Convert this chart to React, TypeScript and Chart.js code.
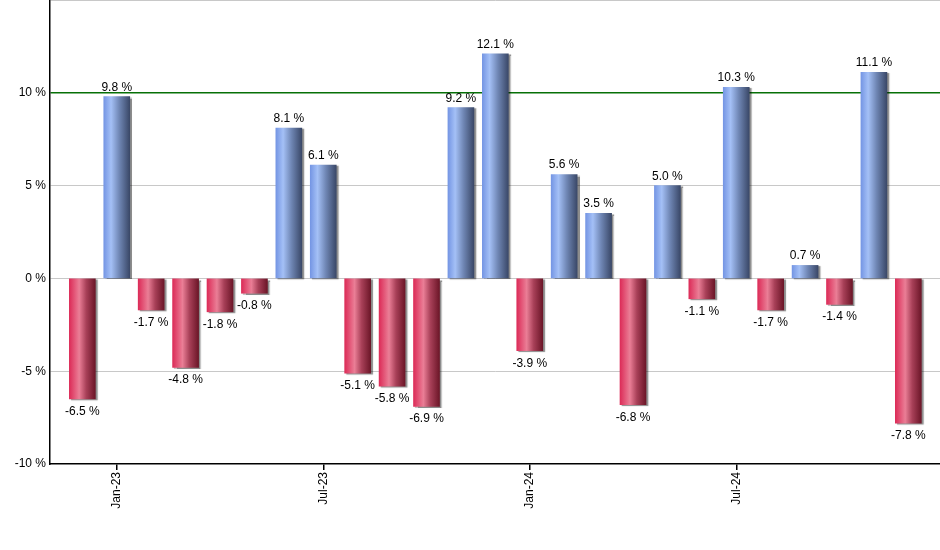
import React, { useEffect, useRef } from "react";
import { Chart, registerables } from "chart.js";

Chart.register(...registerables);

const months: string[] = [
  "Dec-22", "Jan-23", "Feb-23", "Mar-23", "Apr-23", "May-23", "Jun-23", "Jul-23",
  "Aug-23", "Sep-23", "Oct-23", "Nov-23", "Dec-23", "Jan-24", "Feb-24", "Mar-24",
  "Apr-24", "May-24", "Jun-24", "Jul-24", "Aug-24", "Sep-24", "Oct-24", "Nov-24", "Dec-24",
];
const returns: number[] = [
  -6.5, 9.8, -1.7, -4.8, -1.8, -0.8, 8.1, 6.1, -5.1, -5.8, -6.9, 9.2, 12.1, -3.9,
  5.6, 3.5, -6.8, 5.0, -1.1, 10.3, -1.7, 0.7, -1.4, 11.1, -7.8,
];
const xTickIndices: number[] = [1, 7, 13, 19];
const yTickValues: number[] = [-10, -5, 0, 5, 10, 15];

const FONT = "'Liberation Sans', Arial, sans-serif";
const BAR_W = 26;

export default function App() {
  const ref = useRef<HTMLCanvasElement | null>(null);

  useEffect(() => {
    const canvas = ref.current;
    if (!canvas) return;

    const shadowPlugin = {
      id: "barShadow",
      beforeDatasetsDraw(chart: any) {
        const c = chart.ctx;
        c.save();
        c.shadowColor = "rgba(0,0,0,0.45)";
        c.shadowOffsetX = 2;
        c.shadowOffsetY = 1;
        c.shadowBlur = 1;
      },
      afterDatasetsDraw(chart: any) {
        chart.ctx.restore();
      },
    };

    const labelPlugin = {
      id: "valueLabels",
      afterDatasetsDraw(chart: any) {
        const c = chart.ctx;
        const meta = chart.getDatasetMeta(0);
        c.save();
        c.font = `12px ${FONT}`;
        c.fillStyle = "#000";
        c.textAlign = "center";
        c.textBaseline = "alphabetic";
        meta.data.forEach((el: any, i: number) => {
          const v = returns[i];
          const txt = v.toFixed(1) + " %";
          if (v >= 0) c.fillText(txt, el.x, el.y - 6);
          else c.fillText(txt, el.x, el.y + 16);
        });
        c.restore();
      },
    };

    const bg = (ctx: any) => {
      const chart = ctx.chart;
      const xs = chart.scales?.x;
      const v = returns[ctx.dataIndex];
      const flat = v >= 0 ? "#7898e0" : "#d83060";
      if (!xs || v === undefined) return flat;
      const cx = xs.getPixelForValue(ctx.dataIndex);
      if (!Number.isFinite(cx)) return flat;
      const g = chart.ctx.createLinearGradient(cx - BAR_W / 2, 0, cx + BAR_W / 2, 0);
      if (v >= 0) {
        g.addColorStop(0, "#7596e4");
        g.addColorStop(0.28, "#a4c0f6");
        g.addColorStop(0.6, "#6f86b4");
        g.addColorStop(1, "#3a4868");
      } else {
        g.addColorStop(0, "#dc2c58");
        g.addColorStop(0.38, "#ea7e96");
        g.addColorStop(0.65, "#a84058");
        g.addColorStop(1, "#6c1628");
      }
      return g;
    };

    const chart = new Chart(canvas, {
      type: "bar",
      data: {
        datasets: [
          {
            data: returns.map((v, i) => ({ x: i, y: v })),
            backgroundColor: bg,
            borderWidth: 0,
            barThickness: BAR_W,
          },
        ],
      },
      options: {
        animation: false,
        responsive: false,
        maintainAspectRatio: false,
        layout: { padding: 0 },
        plugins: {
          legend: { display: false },
          tooltip: { enabled: false },
        },
        scales: {
          x: {
            type: "linear",
            offset: false,
            min: -0.94,
            max: 24.92,
            afterBuildTicks: (axis: any) => {
              axis.ticks = xTickIndices.map((v) => ({ value: v }));
            },
            afterFit: (axis: any) => {
              axis.height = 86;
              axis.paddingLeft = 0;
              axis.paddingRight = 0;
            },
            ticks: {
              autoSkip: false,
              maxRotation: 90,
              minRotation: 90,
              padding: 2,
              color: "#000",
              font: { family: FONT, size: 12 },
              callback: (value: any) => months[Math.round(Number(value))] ?? "",
            },
            grid: {
              offset: false,
              drawOnChartArea: false,
              drawTicks: true,
              tickLength: 6,
              color: "#000",
              lineWidth: 1.5,
            },
            border: { display: true, color: "#000", width: 1.5 },
          },
          y: {
            min: -10,
            max: 15,
            afterBuildTicks: (axis: any) => {
              axis.ticks = yTickValues.map((v) => ({ value: v }));
            },
            afterFit: (axis: any) => {
              axis.width = 50;
              axis.paddingTop = 0;
              axis.paddingBottom = 0;
            },
            ticks: {
              padding: 4,
              color: "#000",
              font: { family: FONT, size: 12 },
              callback: (value: any) => (Number(value) === 15 ? "" : value + " %"),
            },
            grid: {
              drawTicks: false,
              color: (ctx: any) => {
                const v = ctx.tick?.value;
                if (v === 10) return "#077007";
                if (v === -10) return "rgba(0,0,0,0)";
                return "#c8c8c8";
              },
              lineWidth: (ctx: any) => (ctx.tick?.value === 10 ? 1.5 : 1),
            },
            border: { display: true, color: "#000", width: 1.5 },
          },
        },
      },
      plugins: [shadowPlugin, labelPlugin],
    });

    return () => chart.destroy();
  }, []);

  return (
    <div style={{ position: "fixed", left: 0, top: 0, width: 940, height: 550, background: "#fff" }}>
      <canvas ref={ref} width={940} height={550} style={{ display: "block" }} />
    </div>
  );
}
